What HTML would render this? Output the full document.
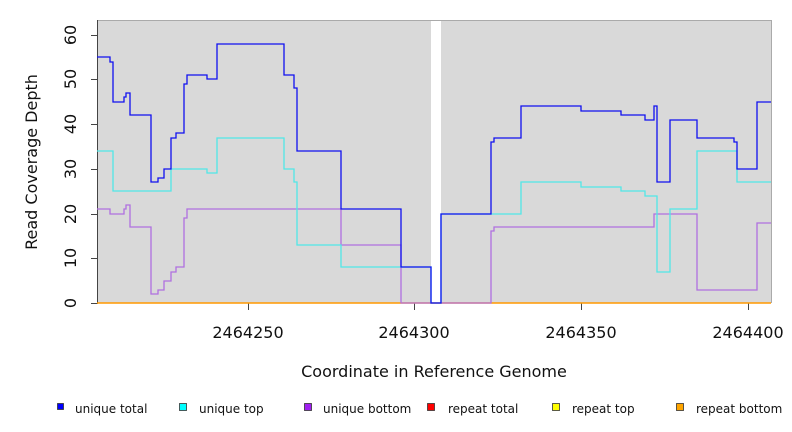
<!DOCTYPE html>
<html><head><style>body{margin:0;background:#fff}svg{display:block}text{font-family:"DejaVu Sans","Liberation Sans",sans-serif;fill:#111}</style></head><body>
<svg width="792" height="432" viewBox="0 0 792 432">
<rect x="97" y="20" width="674" height="283" fill="#d9d9d9"/>
<rect x="431" y="20" width="10" height="283" fill="#fff"/>
<line x1="97" y1="20.5" x2="771" y2="20.5" stroke="#aaa"/>
<line x1="771.5" y1="20" x2="771.5" y2="303" stroke="#aaa"/>
<line x1="97.5" y1="20" x2="97.5" y2="304" stroke="#444"/>
<g stroke="#444">
<line x1="91" y1="303.5" x2="97" y2="303.5"/><line x1="91" y1="258.5" x2="97" y2="258.5"/><line x1="91" y1="214.5" x2="97" y2="214.5"/><line x1="91" y1="169.5" x2="97" y2="169.5"/><line x1="91" y1="124.5" x2="97" y2="124.5"/><line x1="91" y1="79.5" x2="97" y2="79.5"/><line x1="91" y1="35.5" x2="97" y2="35.5"/>
<line x1="248.5" y1="303" x2="248.5" y2="310"/><line x1="414.5" y1="303" x2="414.5" y2="310"/><line x1="581.5" y1="303" x2="581.5" y2="310"/><line x1="748.5" y1="303" x2="748.5" y2="310"/>
</g>
<g font-size="16" text-anchor="middle">
<text transform="translate(76,303) rotate(-90)">0</text>
<text transform="translate(76,258) rotate(-90)">10</text>
<text transform="translate(76,214) rotate(-90)">20</text>
<text transform="translate(76,169) rotate(-90)">30</text>
<text transform="translate(76,124) rotate(-90)">40</text>
<text transform="translate(76,79) rotate(-90)">50</text>
<text transform="translate(76,35) rotate(-90)">60</text>
<text x="248" y="338">2464250</text><text x="414" y="338">2464300</text><text x="581" y="338">2464350</text><text x="748" y="338">2464400</text>
<text x="434" y="377">Coordinate in Reference Genome</text>
<text transform="translate(37,162) rotate(-90)">Read Coverage Depth</text>
</g>
<line x1="97" y1="303" x2="771" y2="303" stroke="#ff9900" stroke-width="1.5"/>
<g fill="none" stroke-width="1.3">
<path stroke="#b070e0" d="M97,209 H110 V214 H124 V209 H126 V205 H130 V227 H151 V294 H158 V290 H164 V281 H171 V272 H176 V267 H184 V218 H187 V209 H341 V245 H401 V303 H491 V231 H494 V227 H654 V214 H697 V290 H757 V223 H771"/>
<path stroke="#50e8e8" d="M97,151 H113 V191 H171 V169 H207 V173 H217 V138 H284 V169 H294 V182 H297 V245 H341 V267 H431 V303 H441 V214 H521 V182 H581 V187 H621 V191 H645 V196 H657 V272 H670 V209 H697 V151 H737 V182 H771"/>
<path stroke="#1010f0" d="M97,57 H110 V62 H113 V102 H124 V97 H126 V93 H130 V115 H151 V182 H158 V178 H164 V169 H171 V138 H176 V133 H184 V84 H187 V75 H207 V79 H217 V44 H284 V75 H294 V88 H297 V151 H341 V209 H401 V267 H431 V303 H441 V214 H491 V142 H494 V138 H521 V106 H581 V111 H621 V115 H645 V120 H654 V106 H657 V182 H670 V120 H697 V138 H734 V142 H737 V169 H757 V102 H771"/>
</g>
<g font-size="12" stroke="#333" stroke-width="0.8">
<rect x="57.5" y="403.5" width="6" height="6" fill="#0000ff"/>
<rect x="179.5" y="403.5" width="7" height="7" fill="#00ffff"/>
<rect x="304.5" y="403.5" width="7" height="7" fill="#a020f0"/>
<rect x="427.5" y="403.5" width="7" height="7" fill="#ff0000"/>
<rect x="552.5" y="403.5" width="7" height="7" fill="#ffff00"/>
<rect x="676.5" y="403.5" width="7" height="7" fill="#ffa500"/>
</g>
<g font-size="12">
<text x="75" y="413">unique total</text><text x="199" y="413">unique top</text><text x="323" y="413">unique bottom</text><text x="448" y="413">repeat total</text><text x="572" y="413">repeat top</text><text x="696" y="413">repeat bottom</text>
</g>
</svg></body></html>
